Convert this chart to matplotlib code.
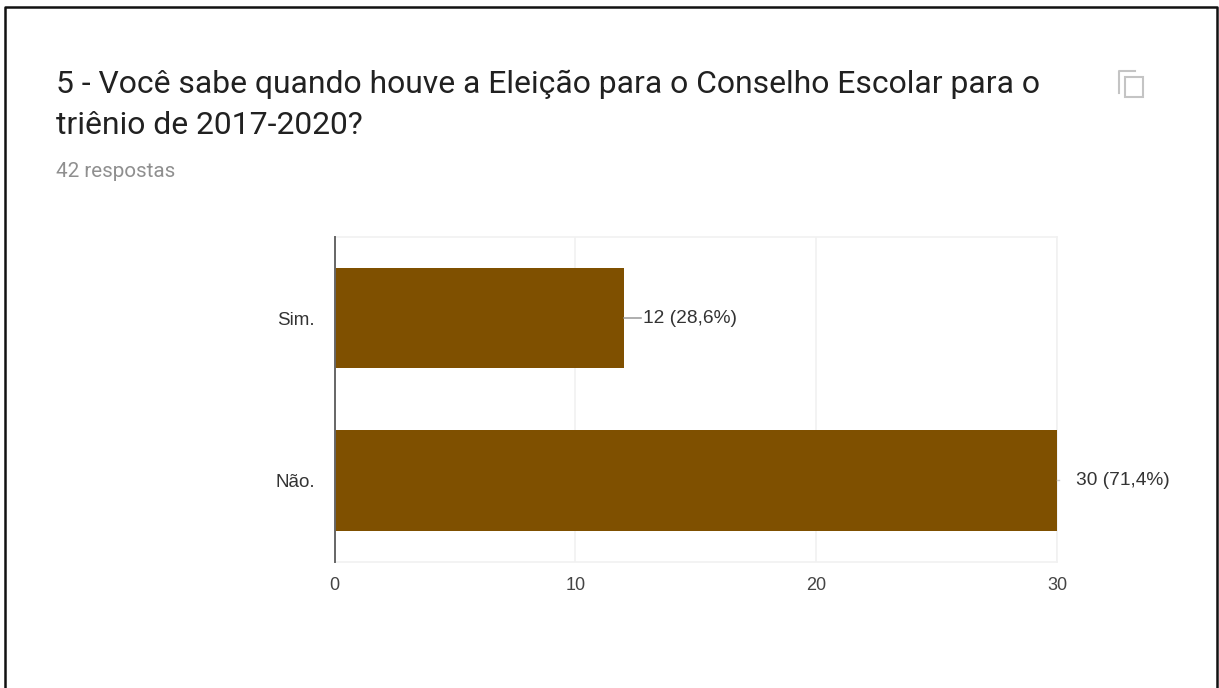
import matplotlib
matplotlib.use("Agg")
import matplotlib.pyplot as plt
from matplotlib.patches import Rectangle
from matplotlib.lines import Line2D

categorias = ["Sim.", "Não."]
respostas = [12, 30]
rotulos = ["12 (28,6%)", "30 (71,4%)"]
ticks_x = [0, 10, 20, 30]

titulo_1 = "5 - Você sabe quando houve a Eleição para o Conselho Escolar para o"
titulo_2 = "triênio de 2017-2020?"
subtitulo = "42 respostas"

W, H = 1219, 688
plt.rcParams['font.family'] = ['Liberation Sans', 'DejaVu Sans']

fig = plt.figure(figsize=(W / 100, H / 100), dpi=100, facecolor="white")

# fundo em pixels, para a moldura e os textos do cartao
bg = fig.add_axes([0, 0, 1, 1])
bg.set_xlim(0, W)
bg.set_ylim(H, 0)
bg.axis("off")

# moldura sem o lado de baixo
bg.add_line(Line2D([4.5, 4.5, 1217, 1217], [688, 7, 7, 688], color="#111111", lw=1.8))

fonte_cartao = ['Roboto', 'DejaVu Sans']
bg.text(56, 84, titulo_1, fontsize=22.98, color="#212121", va="center", ha="left", family=fonte_cartao)
bg.text(56, 126, titulo_2, fontsize=22.98, color="#212121", va="center", ha="left", family=fonte_cartao)
bg.text(56, 171.5, subtitulo, fontsize=14.9, color="#8f8f8f", va="center", ha="left", family=fonte_cartao)

# icone de copiar
bg.add_line(Line2D([1119, 1119, 1135], [93, 71, 71], color="#c4c4c4", lw=1.5))
bg.add_patch(Rectangle((1124.5, 77), 18, 20, fill=False, ec="#c4c4c4", lw=1.5))

# grafico de barras
x0, x1, y0, y1 = 334.5, 1057, 237, 561.5
ax = fig.add_axes([x0 / W, 1 - y1 / H, (x1 - x0) / W, (y1 - y0) / H])
ax.set_facecolor("none")
pos = list(range(len(categorias)))
ax.barh(pos, respostas, height=0.62, color="#7f5000", edgecolor="none", zorder=3)
ax.set_xlim(0, 30)
ax.set_ylim(1.5, -0.5)

ax.set_xticks(ticks_x)
ax.set_xticklabels([str(t) for t in ticks_x], fontsize=13, color="#444444")
ax.set_yticks(pos)
ax.set_yticklabels(categorias, fontsize=13.5, color="#333333")
ax.tick_params(axis="both", length=0)
ax.tick_params(axis="x", pad=11)
ax.tick_params(axis="y", pad=14)
ax.grid(axis="x", color="#f1f1f1", lw=1.2, zorder=0)
ax.set_axisbelow(True)

for lado in ["top", "bottom", "right"]:
    ax.spines[lado].set_color("#f1f1f1")
    ax.spines[lado].set_linewidth(1.2)
ax.spines["left"].set_color("#666666")
ax.spines["left"].set_linewidth(1.4)
ax.spines["left"].set_zorder(5)

# rotulos com a linha de ligacao ate a barra
ax.plot([respostas[0], respostas[0] + 0.72], [0, 0], color="#999999", lw=1.1, clip_on=False, zorder=4)
ax.text(respostas[0] + 0.82, 0, rotulos[0], fontsize=13.8, color="#333333", va="center", ha="left")
ax.plot([respostas[1], respostas[1] + 0.08], [1, 1], color="#cccccc", lw=1.0, clip_on=False, zorder=4)
ax.text(respostas[1] + 0.8, 1, rotulos[1], fontsize=13.8, color="#333333", va="center", ha="left")

fig.savefig("out.png", dpi=100)
